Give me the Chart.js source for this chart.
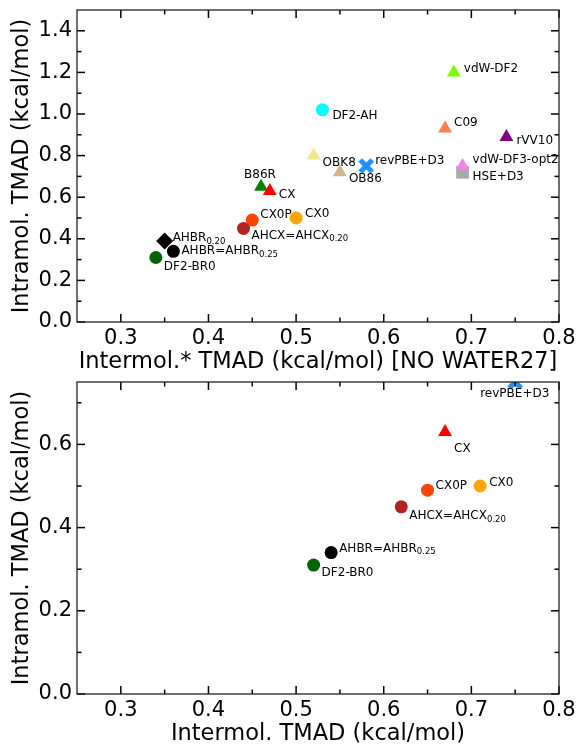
<!DOCTYPE html>
<html>
<head>
<meta charset="utf-8">
<script src="https://cdn.jsdelivr.net/npm/chart.js@4"></script>
<style>
  html, body { margin: 0; padding: 0; background: #fff; }
  canvas { display: block; }
</style>
</head>
<body>
<canvas id="topChart" width="579" height="372"></canvas>
<canvas id="bottomChart" width="579" height="372"></canvas>
<script>
/* ---- dados: painel de cima (intermol. sem WATER27) ---- */
const topMethods = ['HSE+D3', 'vdW-DF3-opt2', 'rVV10', 'C09', 'vdW-DF2', 'DF2-AH', 'revPBE+D3', 'OB86', 'OBK8',
                    'B86R', 'CX', 'CX0', 'CX0P', 'AHCX', 'AHBR0.20', 'AHBR', 'DF2-BR0'];
const topInter   = [0.69, 0.69, 0.74, 0.67, 0.68, 0.53, 0.58, 0.55, 0.52, 0.46, 0.47, 0.50, 0.45, 0.44, 0.35, 0.36, 0.34];
const topIntra   = [0.72, 0.75, 0.89, 0.93, 1.20, 1.02, 0.75, 0.72, 0.80, 0.65, 0.63, 0.50, 0.49, 0.45, 0.39, 0.34, 0.31];

/* ---- dados: painel de baixo (intermol. completo) ---- */
const botMethods = ['revPBE+D3', 'CX', 'CX0', 'CX0P', 'AHCX', 'AHBR', 'DF2-BR0'];
const botInter   = [0.75, 0.67, 0.71, 0.65, 0.62, 0.54, 0.52];
const botIntra   = [0.75, 0.63, 0.50, 0.49, 0.45, 0.34, 0.31];

/* ---- ticks ---- */
const xTicks      = [0.3, 0.4, 0.5, 0.6, 0.7, 0.8];
const xMinorTicks = [0.35, 0.45, 0.55, 0.65, 0.75];
const yTicksTop   = [0.0, 0.2, 0.4, 0.6, 0.8, 1.0, 1.2, 1.4];
const yMinorTop   = [0.1, 0.3, 0.5, 0.7, 0.9, 1.1, 1.3];
const yTicksBot   = [0.0, 0.2, 0.4, 0.6];
const yMinorBot   = [0.1, 0.3, 0.5, 0.7];

/* ---- rótulos (texto principal + subscrito) ---- */
const LABEL = {
  'HSE+D3': ['HSE+D3', ''], 'vdW-DF3-opt2': ['vdW-DF3-opt2', ''], 'rVV10': ['rVV10', ''], 'C09': ['C09', ''],
  'vdW-DF2': ['vdW-DF2', ''], 'DF2-AH': ['DF2-AH', ''], 'revPBE+D3': ['revPBE+D3', ''], 'OB86': ['OB86', ''],
  'OBK8': ['OBK8', ''], 'B86R': ['B86R', ''], 'CX': ['CX', ''], 'CX0': ['CX0', ''], 'CX0P': ['CX0P', ''],
  'AHCX': ['AHCX=AHCX', '0.20'], 'AHBR0.20': ['AHBR', '0.20'], 'AHBR': ['AHBR=AHBR', '0.25'], 'DF2-BR0': ['DF2-BR0', ''],
};

/* ---- posição do rótulo em px, relativa ao ponto ---- */
const topLabelOffset = [[10, 5], [10, -6], [10, 4], [9, -6], [10, -4], [10, 6], [9, -5], [9, 7], [9, 7],
                        [-17, -12], [9, 4], [9, -4], [8, -5], [8, 7], [8, -3], [8, 0], [8, 9]];
const botLabelOffset = [[-35, 12], [9, 17], [9, -3], [8, -4], [8, 9], [8, -4], [8, 8]];

/* marcador X preenchido (revPBE+D3) */
function makeX(color) {
  const c = document.createElement('canvas');
  c.width = 16; c.height = 16;
  const g = c.getContext('2d');
  g.strokeStyle = color; g.lineWidth = 5; g.lineCap = 'butt';
  g.beginPath(); g.moveTo(2, 2); g.lineTo(14, 14); g.moveTo(14, 2); g.lineTo(2, 14); g.stroke();
  return c;
}

/* ---- estilo por método: cor, forma, raio ---- */
const STYLE = {
  'HSE+D3': ['#a9a9a9', 'rect', 9], 'vdW-DF3-opt2': ['#ee82ee', 'triangle', 8], 'rVV10': ['#800080', 'triangle', 8],
  'C09': ['#ff7f50', 'triangle', 8], 'vdW-DF2': ['#7cfc00', 'triangle', 8], 'DF2-AH': ['#00ffff', 'circle', 6.5],
  'revPBE+D3': ['#1e90ff', makeX('#1e90ff'), 7], 'OB86': ['#d2b48c', 'triangle', 8], 'OBK8': ['#f0e68c', 'triangle', 8],
  'B86R': ['#008000', 'triangle', 8], 'CX': ['#ff0000', 'triangle', 8], 'CX0': ['#ffa500', 'circle', 6.5],
  'CX0P': ['#ff4500', 'circle', 6.5], 'AHCX': ['#b22222', 'circle', 6.5], 'AHBR0.20': ['#000000', 'rectRot', 8.5],
  'AHBR': ['#000000', 'circle', 6.5], 'DF2-BR0': ['#006400', 'circle', 6.5],
};

const FONT = 'DejaVu Sans';

/* moldura + ticks para dentro nos quatro lados */
const frameTicks = {
  id: 'frameTicks',
  afterDatasetsDraw(chart, args, opts) {
    const { ctx, chartArea: a, scales: { x, y } } = chart;
    ctx.save();
    ctx.strokeStyle = '#000';
    ctx.lineWidth = 1.5;
    const seg = (x1, y1, x2, y2) => { ctx.beginPath(); ctx.moveTo(x1, y1); ctx.lineTo(x2, y2); ctx.stroke(); };
    const xt = (vals, len) => vals.forEach(v => {
      const p = x.getPixelForValue(v);
      seg(p, a.bottom, p, a.bottom - len); seg(p, a.top, p, a.top + len);
    });
    const yt = (vals, len) => vals.forEach(v => {
      const p = y.getPixelForValue(v);
      seg(a.left, p, a.left + len, p); seg(a.right, p, a.right - len, p);
    });
    xt(xTicks, 8); xt(xMinorTicks, 4.5);
    yt(opts.major, 8); yt(opts.minor, 4.5);
    ctx.lineWidth = 1.3;
    ctx.strokeStyle = '#222';
    ctx.strokeRect(a.left, a.top, a.right - a.left, a.bottom - a.top);
    ctx.restore();
  }
};

/* rótulos de cada ponto, com subscrito */
const pointLabels = {
  id: 'pointLabels',
  afterDatasetsDraw(chart, args, opts) {
    const { ctx } = chart;
    const meta = chart.getDatasetMeta(0);
    ctx.save();
    ctx.fillStyle = '#000';
    ctx.textBaseline = 'middle';
    ctx.textAlign = 'left';
    meta.data.forEach((pt, i) => {
      const [main, sub] = LABEL[opts.names[i]];
      const [dx, dy] = opts.offsets[i];
      ctx.font = `12px "${FONT}"`;
      ctx.fillText(main, pt.x + dx, pt.y + dy);
      if (sub) {
        const w = ctx.measureText(main).width;
        ctx.font = `8.5px "${FONT}"`;
        ctx.fillText(sub, pt.x + dx + w, pt.y + dy + 3.5);
      }
    });
    ctx.restore();
  }
};

function makeChart(id, names, xs, ys, yMax, yTicks, yMinor, offsets, xTitle) {
  const styles = names.map(n => STYLE[n]);
  return new Chart(document.getElementById(id), {
    type: 'scatter',
    data: {
      datasets: [{
        data: xs.map((v, i) => ({ x: v, y: ys[i] })),
        pointBackgroundColor: styles.map(s => s[0]),
        pointBorderColor: styles.map(s => s[0]),
        pointBorderWidth: 0,
        pointStyle: styles.map(s => s[1]),
        pointRadius: styles.map(s => s[2]),
        clip: 0,
      }],
    },
    options: {
      responsive: false,
      animation: false,
      events: [],
      layout: { padding: { top: 10, right: 20, bottom: 0, left: 0 } },
      plugins: {
        legend: { display: false },
        tooltip: { enabled: false },
        frameTicks: { major: yTicks, minor: yMinor },
        pointLabels: { names, offsets },
      },
      scales: {
        x: {
          type: 'linear', min: 0.25, max: 0.8,
          grid: { display: false, drawTicks: false },
          border: { display: false },
          afterBuildTicks: s => { s.ticks = xTicks.map(v => ({ value: v })); },
          ticks: { color: '#000', font: { family: FONT, size: 21 }, padding: 4, maxRotation: 0,
                   callback: v => v.toFixed(1) },
          title: { display: true, text: xTitle, color: '#000', font: { family: FONT, size: 22.5 },
                   padding: { top: 0, bottom: -4 } },
          afterFit: s => { s.height = 50; s.paddingLeft = 0; s.paddingRight = 0; },
        },
        y: {
          type: 'linear', min: 0, max: yMax,
          grid: { display: false, drawTicks: false },
          border: { display: false },
          afterBuildTicks: s => { s.ticks = yTicks.map(v => ({ value: v })); },
          ticks: { color: '#000', font: { family: FONT, size: 21 }, padding: 5,
                   callback: v => v.toFixed(1) },
          title: { display: true, text: 'Intramol. TMAD (kcal/mol)', color: '#000', font: { family: FONT, size: 22.5 },
                   padding: { top: 9, bottom: 0 } },
          afterFit: s => { s.width = 77; s.paddingTop = 0; s.paddingBottom = 0; },
        },
      },
    },
    plugins: [frameTicks, pointLabels],
  });
}

makeChart('topChart', topMethods, topInter, topIntra, 1.5, yTicksTop, yMinorTop, topLabelOffset,
          'Intermol.* TMAD (kcal/mol) [NO WATER27]');
makeChart('bottomChart', botMethods, botInter, botIntra, 0.75, yTicksBot, yMinorBot, botLabelOffset,
          'Intermol. TMAD (kcal/mol)');
</script>
</body>
</html>
